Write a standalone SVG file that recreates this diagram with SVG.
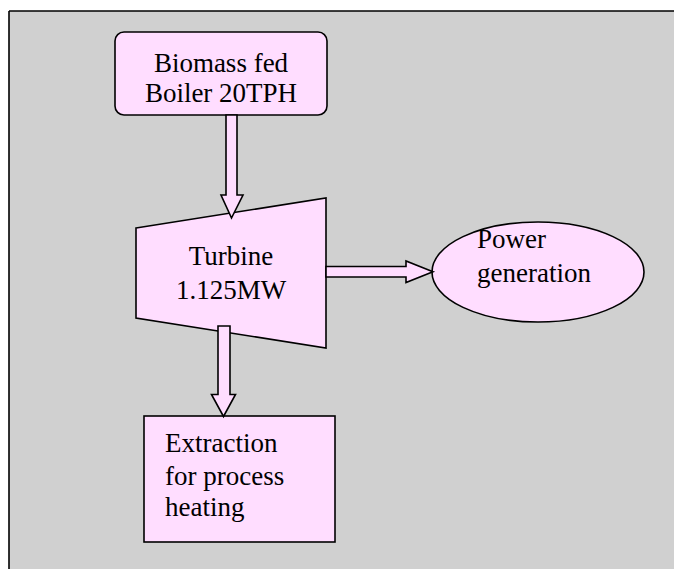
<svg xmlns="http://www.w3.org/2000/svg" width="674" height="569" viewBox="0 0 674 569">
  <style>
    .node { fill: #ffddff; stroke: #000; stroke-width: 1.6; }
    .arrow { fill: #ffddff; stroke: #000; stroke-width: 1.6; stroke-linejoin: miter; }
    .frame { stroke: #000; stroke-width: 1.6; }
    text { font-family: "Liberation Serif", "Times New Roman", serif; font-size: 27px; fill: #000; }
    .c { text-anchor: middle; }
  </style>
  <rect x="0" y="0" width="674" height="569" fill="#ffffff"/>
  <rect x="9" y="11" width="665" height="558" fill="#d0d0d0"/>
  <line class="frame" x1="9" y1="11" x2="674" y2="11"/>
  <line class="frame" x1="9" y1="11" x2="9" y2="569"/>

  <g id="boiler">
    <rect class="node" x="115" y="32" width="212" height="83" rx="9" ry="9"/>
    <text class="c" x="221" y="72">Biomass fed</text>
    <text class="c" x="221" y="102">Boiler 20TPH</text>
  </g>

  <g id="turbine">
    <polygon class="node" points="136,228 326,198 326,348 136,318"/>
    <text class="c" x="231" y="265">Turbine</text>
    <text class="c" x="231" y="299">1.125MW</text>
  </g>

  <g id="power">
    <ellipse class="node" cx="538" cy="272" rx="106" ry="50"/>
    <text x="477" y="248">Power</text>
    <text x="477" y="282">generation</text>
  </g>

  <g id="extraction">
    <rect class="node" x="144" y="416" width="191" height="126"/>
    <text x="165" y="452">Extraction</text>
    <text x="165" y="485">for process</text>
    <text x="165" y="516">heating</text>
  </g>

  <g id="connectors">
    <polygon class="arrow" points="226,115 237,115 237,195 243,195 231.5,218 221,195 226,195"/>
    <polygon class="arrow" points="326,266.5 406,266.5 406,261 433,271.7 406,282.5 406,277 326,277"/>
    <polygon class="arrow" points="218,326 230,326 230,394.5 235.5,394.5 223.5,416.5 211.5,394.5 218,394.5"/>
  </g>
</svg>
